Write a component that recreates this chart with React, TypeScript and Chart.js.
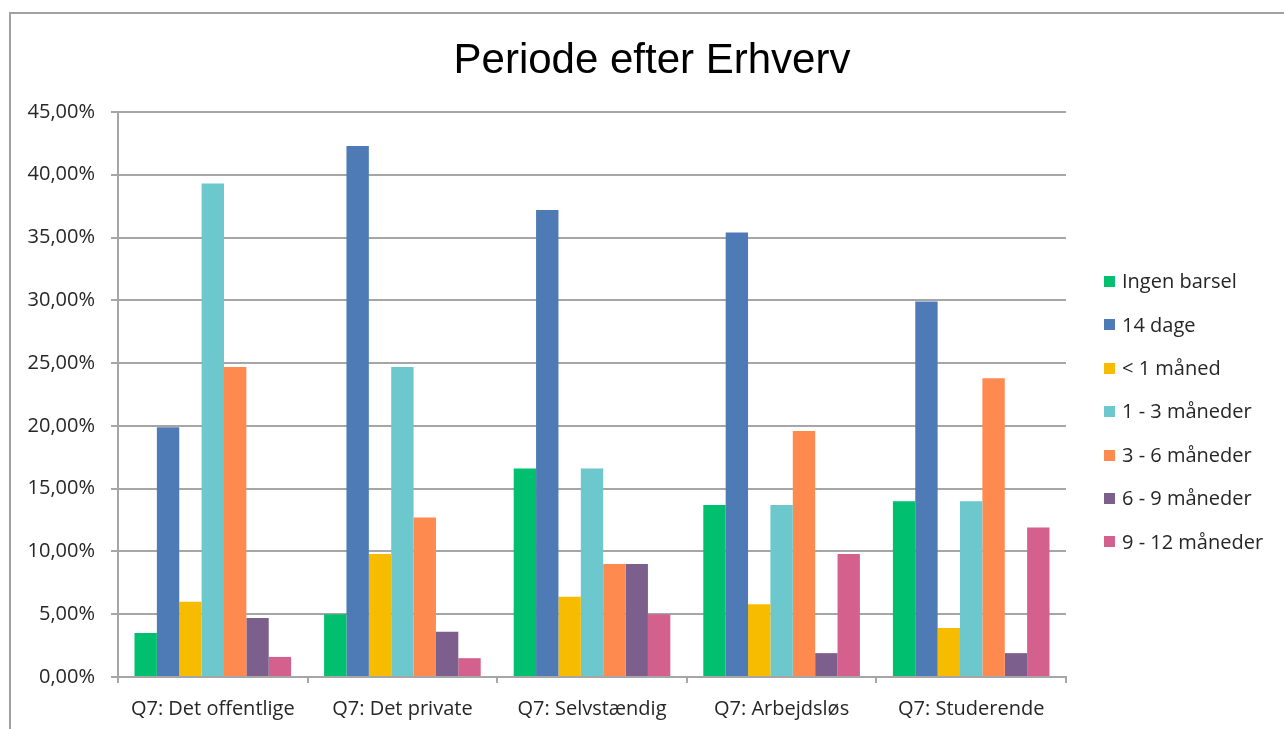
import React, { useEffect, useRef } from "react";
import { Chart, registerables } from "chart.js";

Chart.register(...registerables);

const TITLE = "Periode efter Erhverv";

const categories = [
  "Q7: Det offentlige",
  "Q7: Det private",
  "Q7: Selvstændig",
  "Q7: Arbejdsløs",
  "Q7: Studerende",
];

const seriesNames = [
  "Ingen barsel",
  "14 dage",
  "< 1 måned",
  "1 - 3 måneder",
  "3 - 6 måneder",
  "6 - 9 måneder",
  "9 - 12 måneder",
];

const ingenBarsel = [3.5, 5.0, 16.6, 13.7, 14.0];
const dage14 = [19.9, 42.3, 37.2, 35.4, 29.9];
const underEnMaaned = [6.0, 9.8, 6.4, 5.8, 3.9];
const maaneder1til3 = [39.3, 24.7, 16.6, 13.7, 14.0];
const maaneder3til6 = [24.7, 12.7, 9.0, 19.6, 23.8];
const maaneder6til9 = [4.7, 3.6, 9.0, 1.9, 1.9];
const maaneder9til12 = [1.6, 1.5, 5.0, 9.8, 11.9];

const seriesValues = [
  ingenBarsel,
  dage14,
  underEnMaaned,
  maaneder1til3,
  maaneder3til6,
  maaneder6til9,
  maaneder9til12,
];

const seriesColors = [
  "#00BF6F",
  "#4E7BB5",
  "#F7BC00",
  "#6CC8CC",
  "#FF8A50",
  "#7D5F8E",
  "#D4608E",
];

const yMax = 45;
const yStep = 5;

const W = 1284;
const H = 729;
const PLOT_LEFT = 118;
const PLOT_RIGHT = 1066;
const PLOT_TOP = 112;
const PLOT_BOTTOM = 677;

const TICK_FONT = '"Open Sans", "Noto Sans", sans-serif';
const TEXT_COLOR = "#262626";
const GRID_COLOR = "#a6a6a6";

const overlayPlugin = {
  id: "overlay",
  afterDraw(chart: any) {
    const ctx = chart.ctx as CanvasRenderingContext2D;
    ctx.save();
    ctx.fillStyle = "#000000";
    ctx.font = '42px "Liberation Sans", Arial, sans-serif';
    ctx.textAlign = "center";
    ctx.textBaseline = "alphabetic";
    ctx.fillText(TITLE, 652, 73);

    ctx.font = "20px " + TICK_FONT;
    ctx.textAlign = "left";
    ctx.textBaseline = "middle";
    chart.data.datasets.forEach((ds: any, i: number) => {
      const y = 281.5 + i * 43.4;
      ctx.fillStyle = ds.backgroundColor;
      ctx.fillRect(1104, Math.round(y - 5.5), 11, 11);
      ctx.fillStyle = TEXT_COLOR;
      ctx.fillText(ds.label, 1122, y + 1);
    });
    ctx.restore();
  },
};

export default function App() {
  const canvasRef = useRef<HTMLCanvasElement | null>(null);

  useEffect(() => {
    const canvas = canvasRef.current;
    if (!canvas) return;
    const chart = new Chart(canvas, {
      type: "bar",
      data: {
        labels: categories,
        datasets: seriesNames.map((name, i) => ({
          label: name,
          data: seriesValues[i],
          backgroundColor: seriesColors[i],
          borderWidth: 0,
          categoryPercentage: 0.826,
          barPercentage: 1.0,
        })),
      },
      options: {
        responsive: false,
        animation: false,
        devicePixelRatio: 1,
        layout: {
          padding: {
            top: PLOT_TOP,
            right: W - PLOT_RIGHT,
            left: 0,
            bottom: 0,
          },
        },
        plugins: {
          legend: { display: false },
          title: { display: false },
          tooltip: { enabled: false },
        },
        scales: {
          x: {
            afterFit: (scale: any) => {
              scale.height = H - PLOT_BOTTOM;
            },
            grid: {
              display: true,
              drawOnChartArea: false,
              drawTicks: true,
              tickLength: 6,
              offset: true,
              color: GRID_COLOR,
              lineWidth: 2,
            },
            border: { display: true, color: GRID_COLOR, width: 2 },
            ticks: {
              color: TEXT_COLOR,
              font: { family: TICK_FONT, size: 20 },
              padding: 14,
              maxRotation: 0,
              autoSkip: false,
            },
          },
          y: {
            min: 0,
            max: yMax,
            afterFit: (scale: any) => {
              scale.width = PLOT_LEFT;
            },
            grid: {
              color: GRID_COLOR,
              lineWidth: 2,
              drawTicks: true,
              tickLength: 7,
            },
            border: { display: true, color: GRID_COLOR, width: 2 },
            ticks: {
              stepSize: yStep,
              color: TEXT_COLOR,
              font: { family: TICK_FONT, size: 20 },
              padding: 16,
              callback: (v: any) => Number(v).toFixed(2).replace(".", ",") + "%",
            },
          },
        },
      },
      plugins: [overlayPlugin],
    });
    return () => chart.destroy();
  }, []);

  return (
    <div
      style={{
        position: "fixed",
        left: 0,
        top: 0,
        width: W,
        height: H,
        background: "#ffffff",
        overflow: "hidden",
      }}
    >
      <div
        style={{
          position: "absolute",
          left: 9,
          top: 12,
          width: W + 50,
          height: H + 50,
          borderLeft: "2px solid #a0a0a0",
          borderTop: "2px solid #a0a0a0",
        }}
      />
      <canvas
        ref={canvasRef}
        width={W}
        height={H}
        style={{ position: "absolute", left: 0, top: 0, width: W, height: H }}
      />
    </div>
  );
}
